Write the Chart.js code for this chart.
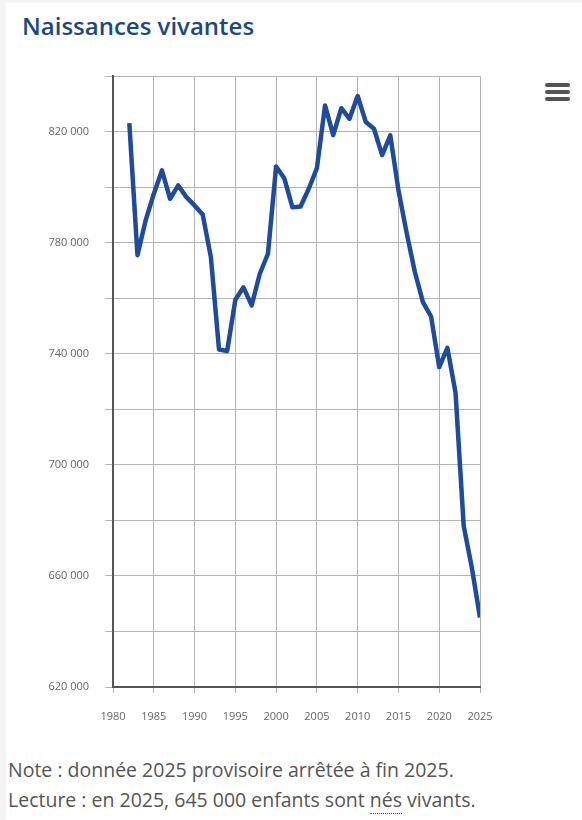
<!DOCTYPE html>
<html lang="fr">
<head>
<meta charset="utf-8">
<script src="https://cdn.jsdelivr.net/npm/chart.js@4.4.1/dist/chart.umd.min.js"></script>
<style>
    html, body { margin: 0; padding: 0; background: #f4f4f4; }
    body { width: 582px; height: 820px; overflow: hidden; position: relative; font-family: "Open Sans", sans-serif; }
    #card { position: absolute; left: 6px; top: 3px; width: 576px; height: 817px; background: #fff; }
    #title { position: absolute; left: 16px; top: 6px; margin: 0; font-size: 24px; font-weight: 600; color: #1b4a82; }
    #wrap { position: absolute; left: -6px; top: -3px; width: 582px; height: 740px; }
    #menu { position: absolute; left: 539px; top: 80px; width: 25px; }
    #menu span { display: block; height: 4px; margin-bottom: 3px; background: #555; border-radius: 2px; }
    #notes { position: absolute; left: 2px; top: 752px; font-size: 19.5px; color: #555; line-height: 30px; }
    abbr { text-decoration: none; border-bottom: 1px dotted #555; }
</style>
</head>
<body>
<div id="card">
    <h1 id="title">Naissances vivantes</h1>
    <div id="wrap"><canvas id="birthsChart" width="582" height="740"></canvas></div>
    <div id="menu"><span></span><span></span><span></span></div>
    <div id="notes">
        Note : donnée 2025 provisoire arrêtée à fin 2025.<br>
        Lecture : en 2025, 645 000 enfants sont <abbr title="nés">nés</abbr> vivants.
    </div>
</div>
<script>
// Live births in France
const years = [
    1982, 1983, 1984, 1985, 1986, 1987, 1988, 1989, 1990, 1991,
    1992, 1993, 1994, 1995, 1996, 1997, 1998, 1999, 2000, 2001,
    2002, 2003, 2004, 2005, 2006, 2007, 2008, 2009, 2010, 2011,
    2012, 2013, 2014, 2015, 2016, 2017, 2018, 2019, 2020, 2021,
    2022, 2023, 2024, 2025
];
const births = [
    823000, 775500, 788000, 797500, 806000, 795800, 800600, 796400, 793400, 790100,
    774800, 741500, 741000, 759400, 763900, 757400, 768800, 776000, 807400, 803200,
    792700, 793000, 799400, 806800, 829400, 818700, 828400, 824600, 832800, 823400,
    821000, 811500, 818600, 798900, 783600, 769600, 758600, 753400, 735200, 742100,
    726000, 678000, 663000, 645000
];
const xTicks = [1980, 1985, 1990, 1995, 2000, 2005, 2010, 2015, 2020, 2025];
const yLabelled = [620000, 660000, 700000, 740000, 780000, 820000];

function formatThousands(v) {
    return String(v).replace(/\B(?=(\d{3})+(?!\d))/g, '\u00a0');
}

const ctx = document.getElementById('birthsChart').getContext('2d');
const chart = new Chart(ctx, {
    type: 'line',
    data: {
        datasets: [{
            label: 'Naissances vivantes',
            data: years.map((y, i) => ({ x: y, y: births[i] })),
            borderColor: '#1e4b9b',
            borderWidth: 4.5,
            pointRadius: 0,
            fill: false,
            tension: 0,
            borderJoinStyle: 'round',
            borderCapStyle: 'butt'
        }]
    },
    options: {
        responsive: false,
        animation: false,
        layout: { padding: { left: 0, top: 76, right: 102, bottom: 0 } },
        plugins: { legend: { display: false }, tooltip: { enabled: false } },
        scales: {
            x: {
                type: 'linear',
                min: 1980,
                max: 2025,
                afterBuildTicks: (scale) => { scale.ticks = xTicks.map(v => ({ value: v })); },
                afterFit: (scale) => { scale.height = 53; },
                border: { display: true, color: '#555', width: 2 },
                grid: { color: '#b4b4b4', lineWidth: 1, tickLength: 6, tickColor: '#b4b4b4' },
                ticks: {
                    color: '#666',
                    font: { family: 'Open Sans', size: 11 },
                    padding: 17,
                    maxRotation: 0,
                    callback: (v) => String(v)
                }
            },
            y: {
                min: 620000,
                max: 840000,
                afterFit: (scale) => { scale.width = 113; },
                border: { display: true, color: '#555', width: 2 },
                grid: { color: '#b4b4b4', lineWidth: 1, tickLength: 8, tickColor: '#b4b4b4' },
                ticks: {
                    stepSize: 20000,
                    color: '#666',
                    font: { family: 'Open Sans', size: 11 },
                    padding: 16,
                    callback: (v) => yLabelled.includes(v) ? formatThousands(v) : ''
                }
            }
        }
    }
});
</script>
</body>
</html>
